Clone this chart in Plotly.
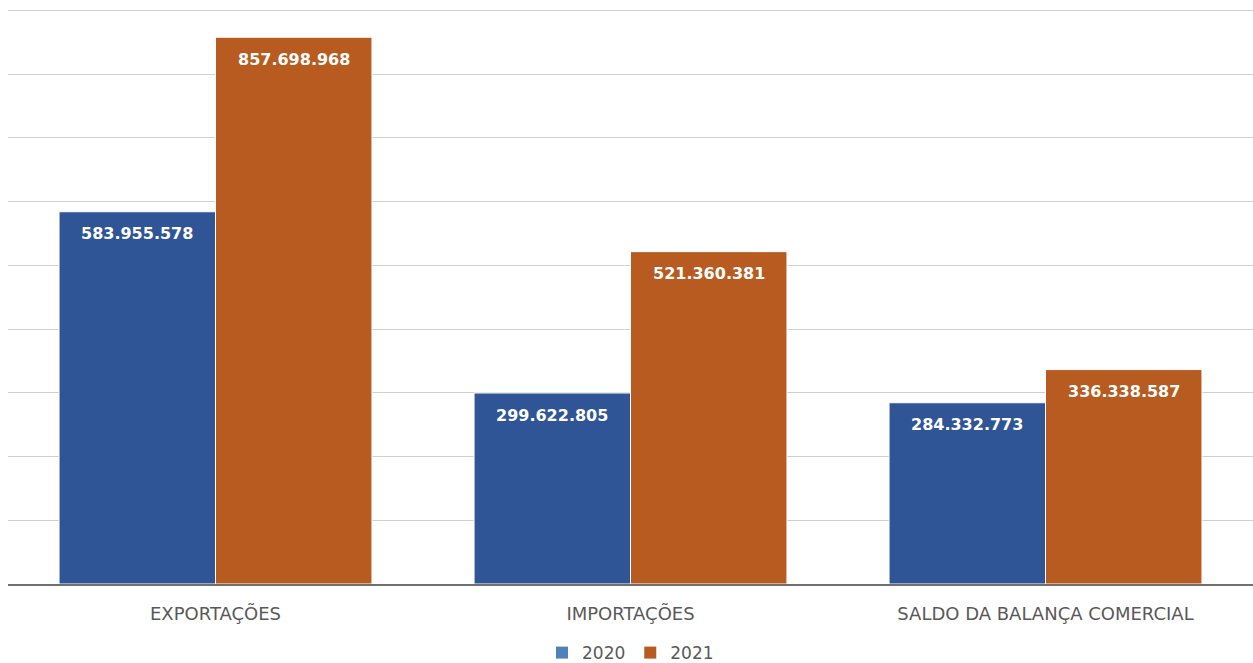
import plotly.graph_objects as go

categories = ["EXPORTAÇÕES", "IMPORTAÇÕES", "SALDO DA BALANÇA COMERCIAL"]
values_2020 = [583955578, 299622805, 284332773]
values_2021 = [857698968, 521360381, 336338587]
series_names = ["2020", "2021"]

bar_colors = ["#2F5597", "#B85B20"]
legend_colors = ["#4F81BD", "#B85B20"]
BARGAP = 0.246

fig = go.Figure()
for name, vals, col in zip(series_names, [values_2020, values_2021], bar_colors):
    fig.add_trace(go.Bar(
        x=categories, y=vals, name=name, showlegend=False,
        marker=dict(color=col, line=dict(color="white", width=1)),
    ))
for name, col in zip(series_names, legend_colors):
    fig.add_trace(go.Scatter(x=[None], y=[None], name=name, mode="markers",
                             marker=dict(color=col, symbol="square", size=12), showlegend=True))

# value labels inside bars, near the top
n = len(series_names)
bw = (1 - BARGAP) / n
for k, vals in enumerate([values_2020, values_2021]):
    off = -(1 - BARGAP) / 2 + bw * (k + 0.5)
    for i, v in enumerate(vals):
        fig.add_annotation(
            x=i + off, y=v, xref="x", yref="y",
            text=f"{v:,}".replace(",", "."), showarrow=False,
            yanchor="middle", yshift=-22,
            font=dict(family="DejaVu Sans", size=16, color="white", weight="bold"),
        )

fig.update_layout(
    width=1253, height=663,
    margin=dict(l=8, r=0, t=9, b=79),
    barmode="group", bargap=BARGAP, bargroupgap=0,
    separators=",.",
    plot_bgcolor="white", paper_bgcolor="white",
    font=dict(family="DejaVu Sans", color="#595959", size=16),
    legend=dict(orientation="h", x=0.5, xanchor="center", yref="container", y=0.015, yanchor="middle",
                font=dict(size=17, color="#595959"), itemwidth=30, tracegroupgap=0),
    xaxis=dict(showline=True, linecolor="#707070", linewidth=2, ticks="",
               tickfont=dict(size=18, color="#595959"), ticklabelstandoff=12),
    yaxis=dict(range=[0, 902000000], dtick=100000000, showticklabels=False, gridcolor="#D0D0D0",
               gridwidth=1, zeroline=False),
)
fig.write_html("out.html")
